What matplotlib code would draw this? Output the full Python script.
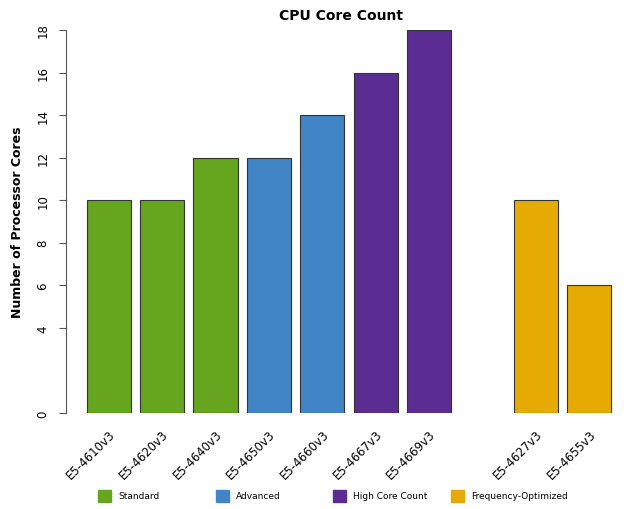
import matplotlib
matplotlib.use("Agg")
import matplotlib.pyplot as plt
from matplotlib.patches import Rectangle

# data
cpus = ["E5-4610v3", "E5-4620v3", "E5-4640v3", "E5-4650v3", "E5-4660v3",
        "E5-4667v3", "E5-4669v3", "E5-4627v3", "E5-4655v3"]
cores = [10, 10, 12, 12, 14, 16, 18, 10, 6]
groups = ["Standard", "Standard", "Standard", "Advanced", "Advanced",
          "High Core Count", "High Core Count",
          "Frequency-Optimized", "Frequency-Optimized"]
positions = [0, 1, 2, 3, 4, 5, 6, 8, 9]
group_names = ["Standard", "Advanced", "High Core Count", "Frequency-Optimized"]
group_colors = {"Standard": "#66A61E", "Advanced": "#4285C7",
                "High Core Count": "#5B2C91", "Frequency-Optimized": "#E6AB02"}
yticks = [0, 4, 6, 8, 10, 12, 14, 16, 18]

plt.rcParams['font.family'] = ['DejaVu Sans']
fig = plt.figure(figsize=(6.34, 5.10), dpi=100)
ax = fig.add_axes([66 / 634, 1 - 414 / 510, (616 - 66) / 634, (414 - 31) / 510])

colors = [group_colors[g] for g in groups]
ax.bar(positions, cores, width=0.83, color=colors, edgecolor="#333333", linewidth=0.8)

ax.set_xlim(-0.8, 9.5)
ax.set_ylim(0, 18)
for side in ["top", "right", "bottom"]:
    ax.spines[side].set_visible(False)
ax.spines["left"].set_color("#555555")

ax.set_yticks(yticks)
ax.set_yticklabels([str(t) for t in yticks], rotation=90, va="center", fontsize=8.5)
ax.tick_params(axis="y", length=5, color="#555555", pad=7)

ax.set_xticks(positions)
ax.set_xticklabels(cpus, rotation=45, ha="right", va="top", rotation_mode="anchor", fontsize=8.5)
ax.tick_params(axis="x", length=0, pad=10)

ax.set_ylabel("Number of Processor Cores", fontsize=9, fontweight="bold", labelpad=9)
ax.set_title("CPU Core Count", fontsize=10, fontweight="bold", pad=8)

# legend along the bottom
leg_x = [98, 216, 333, 451]
for x, name in zip(leg_x, group_names):
    fig.patches.append(Rectangle((x / 634, 1 - 503 / 510), 13 / 634, 12 / 510,
                                 transform=fig.transFigure, color=group_colors[name]))
    fig.text((x + 20) / 634, 1 - 497 / 510, name, fontsize=6.5, va="center", ha="left")

fig.savefig("out.png", dpi=100)
